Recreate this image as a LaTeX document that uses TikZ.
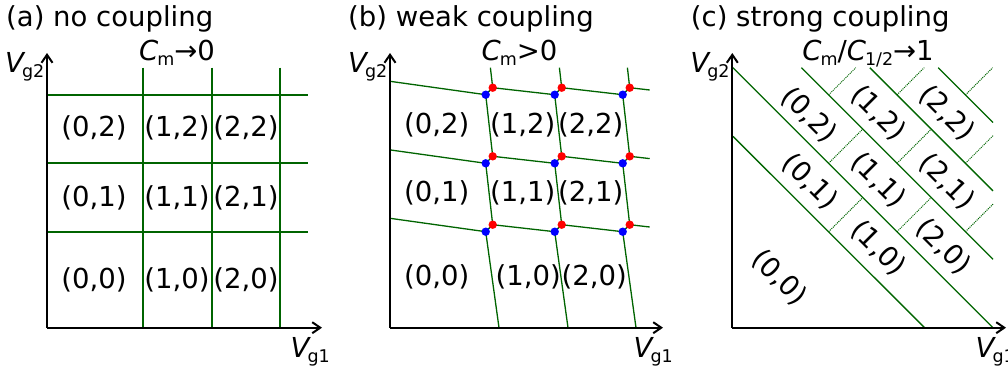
\documentclass[tikz,border=0pt]{standalone}
\usepackage{fontspec}
\setmainfont{DejaVu Sans}
\usetikzlibrary{arrows.meta}
\definecolor{dgreen}{RGB}{0,100,0}
\newcommand{\mysub}[1]{\raisebox{-5pt}{\fontsize{17.5}{17.5}\selectfont #1}}
\newcommand{\Vsym}{\textit{V}\kern-3.5pt}
\newcommand{\Csym}{\textit{C}\kern-1pt}
\tikzset{
  axisline/.style={line width=2pt, -{Straight Barb[length=8pt,width=11pt]}},
  grn/.style={draw=dgreen, line width=1.3pt},
  dotg/.style={draw=dgreen, line width=1pt, dash pattern=on 1pt off 1pt},
  lbl/.style={inner sep=0pt},
  reddot/.style={fill=red, draw=none},
  bluedot/.style={fill=blue, draw=none},
}
\begin{document}
\begin{tikzpicture}[x=1pt, y=-1pt, font=\fontsize{27.5}{33}\selectfont]
\useasboundingbox (0,0) rectangle (1008,372);

% ---------------- panel (a) ----------------
\node[lbl, anchor=base west] (ta) at (6,26) {(a) no coupling};
\node[lbl, anchor=base] (ca) at (177,60) {\Csym\mysub{m}→0};
\coordinate (Oa) at (47,327.7);
\coordinate (XA) at (322,327.7);
\coordinate (YA) at (47,53);
\foreach \x [count=\i] in {143,212,280}{
  \coordinate (av\i t) at (\x,67.7);
  \coordinate (av\i b) at (\x,327.7);
  \draw[grn] (av\i t) -- (av\i b);
}
\foreach \y [count=\i] in {95,163,232}{
  \coordinate (ah\i l) at (47,\y);
  \coordinate (ah\i r) at (307.7,\y);
  \draw[grn] (ah\i l) -- (ah\i r);
}
\draw[axisline] (Oa) -- (XA);
\draw[axisline] (Oa) -- (YA);
\node[lbl, anchor=base east] (vya) at (44.5,72) {\Vsym\mysub{g2}};
\node[lbl, anchor=base west] (vxa) at (290.5,357) {\Vsym\mysub{g1}};
\node[lbl] (a02) at (94,128) {(0,2)};
\node[lbl] (a12) at (177,128) {(1,2)};
\node[lbl] (a22) at (246,128) {(2,2)};
\node[lbl] (a01) at (94,197.5) {(0,1)};
\node[lbl] (a11) at (177,197.5) {(1,1)};
\node[lbl] (a21) at (246,197.5) {(2,1)};
\node[lbl] (a00) at (94,280) {(0,0)};
\node[lbl] (a10) at (177,280) {(1,0)};
\node[lbl] (a20) at (246,280) {(2,0)};

% ---------------- panel (b) ----------------
\node[lbl, anchor=base west] (tb) at (348,26) {(b) weak coupling};
\node[lbl, anchor=base] (cb) at (519.5,60) {\Csym\mysub{m}>0};
\coordinate (Ob) at (390,327.7);
\coordinate (XB) at (663,327.7);
\coordinate (YB) at (390,53);
\foreach \c/\x in {1/485.7,2/554.7,3/622.7}{
  \foreach \r/\y in {1/231.7,2/163.3,3/94.7}{
    \coordinate (B\c\r) at (\x,\y);
    \coordinate (R\c\r) at (\x+7,\y-7);
  }
  \coordinate (T\c) at (\x+4.7,67.7);
  \coordinate (D\c) at (\x+13.3,327.7);
}
\foreach \r/\y in {1/231.7,2/163.3,3/94.7}{
  \coordinate (L\r) at (390,\y-13.4);
  \coordinate (E\r) at (649.7,\y-4.7);
}
\foreach \r in {1,2,3}{
  \draw[grn] (L\r) -- (B1\r);
  \draw[grn] (R1\r) -- (B2\r);
  \draw[grn] (R2\r) -- (B3\r);
  \draw[grn] (R3\r) -- (E\r);
}
\foreach \c in {1,2,3}{
  \draw[grn] (T\c) -- (R\c3);
  \draw[grn] (B\c3) -- (R\c2);
  \draw[grn] (B\c2) -- (R\c1);
  \draw[grn] (B\c1) -- (D\c);
  \foreach \r in {1,2,3}{
    \draw[grn] (R\c\r) -- (B\c\r);
  }
}
\foreach \c in {1,2,3}{
  \foreach \r in {1,2,3}{
    \fill[bluedot] (B\c\r) circle (4.2);
    \fill[reddot] (R\c\r) circle (4.2);
  }
}
\draw[axisline] (Ob) -- (XB);
\draw[axisline] (Ob) -- (YB);
\node[lbl, anchor=base east] (vyb) at (387.5,72) {\Vsym\mysub{g2}};
\node[lbl, anchor=base west] (vxb) at (633.5,357) {\Vsym\mysub{g1}};
\node[lbl] (b02) at (436.7,125) {(0,2)};
\node[lbl] (b12) at (522.7,125) {(1,2)};
\node[lbl] (b22) at (590.7,125) {(2,2)};
\node[lbl] (b01) at (436.7,193.3) {(0,1)};
\node[lbl] (b11) at (522.7,193.3) {(1,1)};
\node[lbl] (b21) at (590.7,193.3) {(2,1)};
\node[lbl] (b00) at (436.7,276.7) {(0,0)};
\node[lbl] (b10) at (528.3,276.7) {(1,0)};
\node[lbl] (b20) at (594.3,276.7) {(2,0)};

% ---------------- panel (c) ----------------
\node[lbl, anchor=base west] (tc) at (690.7,26) {(c) strong coupling};
\node[lbl, anchor=base] (cc) at (868,60) {\Csym\mysub{m}/\Csym\mysub{1/2}→1};
\coordinate (Oc) at (732.3,327.7);
\coordinate (XC) at (1006,327.7);
\coordinate (YC) at (732.3,53);
% solid diagonals
\coordinate (s1a) at (733,136.4);  \coordinate (s1b) at (924.6,327.7);
\coordinate (s2a) at (733,67.7);   \coordinate (s2b) at (993,327.7);
\coordinate (s3a) at (801.4,67.7); \coordinate (s3b) at (993,259.3);
\coordinate (s4a) at (869.8,67.7); \coordinate (s4b) at (993,190.9);
\coordinate (s5a) at (938.2,67.7); \coordinate (s5b) at (993,122.5);
\foreach \k in {1,...,5}{ \draw[grn] (s\k a) -- (s\k b); }
% dotted segments
\foreach \xa/\ya/\xb/\yb [count=\i] in {
  828.6/94.9/855.8/67.7,
  828.6/163.3/862.8/129.1,
  897/94.9/924.2/67.7,
  828.6/231.7/862.8/197.5,
  897/163.3/931.2/129.1,
  965.4/94.9/992.6/67.7,
  897/231.7/931.2/197.5,
  965.4/163.3/993/135.7,
  965.4/231.7/993/204.1}{
  \coordinate (d\i a) at (\xa,\ya);
  \coordinate (d\i b) at (\xb,\yb);
  \draw[dotg] (d\i a) -- (d\i b);
}
\draw[axisline] (Oc) -- (XC);
\draw[axisline] (Oc) -- (YC);
\node[lbl, anchor=base east] (vyc) at (729.8,72) {\Vsym\mysub{g2}};
\node[lbl, anchor=base west] (vxc) at (975.5,357) {\Vsym\mysub{g1}};
\node[lbl, rotate=-45] (c02) at (809,115) {(0,2)};
\node[lbl, rotate=-45] (c12) at (878.3,113.3) {(1,2)};
\node[lbl, rotate=-45] (c22) at (946.7,113.3) {(2,2)};
\node[lbl, rotate=-45] (c01) at (810,181.7) {(0,1)};
\node[lbl, rotate=-45] (c11) at (878.3,180) {(1,1)};
\node[lbl, rotate=-45] (c21) at (946.7,181.7) {(2,1)};
\node[lbl, rotate=-45] (c10) at (878.3,248.3) {(1,0)};
\node[lbl, rotate=-45] (c20) at (943.3,246.7) {(2,0)};
\node[lbl, rotate=-45] (c00) at (779.3,277.5) {(0,0)};
\end{tikzpicture}
\end{document}
